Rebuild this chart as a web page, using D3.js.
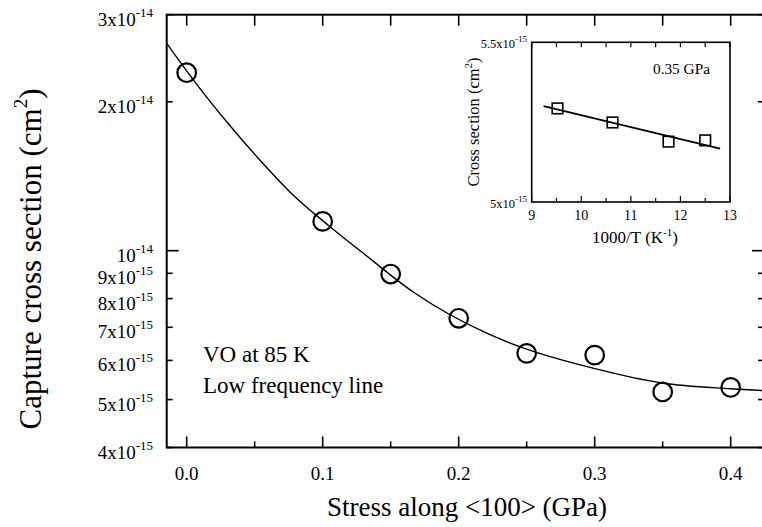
<!DOCTYPE html>
<html>
<head>
<meta charset="utf-8">
<script src="https://cdn.jsdelivr.net/npm/d3@7"></script>
<style>
  html, body { margin: 0; padding: 0; background: #fff; }
  svg { display: block; }
  text { font-family: "Liberation Serif", "Times New Roman", serif; fill: #000; }
</style>
</head>
<body>
<svg id="chart" width="762" height="527"></svg>
<script>
// ---------- main data ----------
const stress = [0, 0.1, 0.15, 0.2, 0.25, 0.3, 0.35, 0.4];
const crossSection = [2.29e-14, 1.146e-14, 8.97e-15, 7.30e-15, 6.20e-15, 6.15e-15, 5.18e-15, 5.29e-15];

// fitted curve
const fitStress = [-0.0147, 0.005, 0.0294, 0.0539, 0.0784, 0.1054, 0.1299, 0.1666, 0.2206, 0.2495, 0.2995, 0.3495, 0.3995, 0.424];
const fitCross  = [2.624e-14, 2.212e-14, 1.822e-14, 1.524e-14, 1.295e-14, 1.118e-14, 9.88e-15, 8.25e-15, 6.81e-15, 6.33e-15, 5.78e-15, 5.40e-15, 5.26e-15, 5.215e-15];

// axes
const xTickValues = [0, 0.1, 0.2, 0.3, 0.4];
const xTickLabels = ["0.0", "0.1", "0.2", "0.3", "0.4"];
const xMinorTicks = [0.05, 0.15, 0.25, 0.35];
const xTopTicks = [0, 0.05, 0.1, 0.15, 0.2, 0.25, 0.3, 0.35, 0.4];
const yTickValues = [4e-15, 5e-15, 6e-15, 7e-15, 8e-15, 9e-15, 1e-14, 2e-14, 3e-14];
const yTickMantissa = ["4x10", "5x10", "6x10", "7x10", "8x10", "9x10", "10", "2x10", "3x10"];
const yTickExponent = ["-15", "-15", "-15", "-15", "-15", "-15", "-14", "-14", "-14"];
const yMajorTicks = [1e-14];

// ---------- inset data ----------
const insetInvT = [9.52, 10.63, 11.76, 12.50];
const insetCross = [5.293e-15, 5.249e-15, 5.189e-15, 5.193e-15];
const insetFitInvT = [9.24, 12.80];
const insetFitCross = [5.300e-15, 5.1675e-15];
const insetXTicks = [9, 10, 11, 12, 13];
const insetXTickLabels = ["9", "10", "11", "12", "13"];
const insetXMinor = [9.5, 10.5, 11.5, 12.5];
const insetYTicks = [5e-15, 5.5e-15];
const insetYMantissa = ["5x10", "5.5x10"];
const insetYExponent = ["-15", "-15"];

// ---------- drawing ----------
const svg = d3.select("#chart");

const x = d3.scaleLinear().domain([-0.0147, 0.4245]).range([166.7, 764]);
const y = d3.scaleLog().domain([4e-15, 3e-14]).range([447.5, 14.7]);
const L = x.range()[0], R = x.range()[1], B = y.range()[0], T = y.range()[1];

svg.append("defs").append("clipPath").attr("id", "clipMain")
  .append("rect").attr("x", L).attr("y", T).attr("width", R - L).attr("height", B - T);

// frame
svg.append("rect").attr("x", L).attr("y", T).attr("width", R - L).attr("height", B - T)
  .attr("fill", "none").attr("stroke", "#000").attr("stroke-width", 2);

const tickG = svg.append("g").attr("stroke", "#000").attr("stroke-width", 1.6);
// bottom ticks
xTickValues.forEach(v => tickG.append("line").attr("x1", x(v)).attr("x2", x(v)).attr("y1", B).attr("y2", B - 11));
xMinorTicks.forEach(v => tickG.append("line").attr("x1", x(v)).attr("x2", x(v)).attr("y1", B).attr("y2", B - 6));
// top ticks
xTopTicks.forEach(v => tickG.append("line").attr("x1", x(v)).attr("x2", x(v)).attr("y1", T).attr("y2", T + 11));
// left / right ticks
yTickValues.forEach(v => {
  const len = yMajorTicks.includes(v) ? 12 : 6;
  tickG.append("line").attr("x1", L).attr("x2", L + len).attr("y1", y(v)).attr("y2", y(v));
  tickG.append("line").attr("x1", R).attr("x2", R - len).attr("y1", y(v)).attr("y2", y(v));
});

// x tick labels
svg.append("g").selectAll("text").data(xTickValues).join("text")
  .attr("x", d => x(d)).attr("y", 480).attr("text-anchor", "middle")
  .attr("font-size", 19).text((d, i) => xTickLabels[i]);

// y tick labels with superscripts
const yl = svg.append("g").selectAll("text").data(yTickValues).join("text")
  .attr("x", 153).attr("y", d => y(d) + 11).attr("text-anchor", "end").attr("font-size", 19);
yl.append("tspan").text((d, i) => yTickMantissa[i]);
yl.append("tspan").attr("font-size", 13).attr("dy", -9).text((d, i) => yTickExponent[i]);

// fit curve
const fitData = fitStress.map((s, i) => [s, fitCross[i]]);
svg.append("path").datum(fitData)
  .attr("clip-path", "url(#clipMain)")
  .attr("fill", "none").attr("stroke", "#000").attr("stroke-width", 1.4)
  .attr("d", d3.line().x(d => x(d[0])).y(d => y(d[1])).curve(d3.curveMonotoneX));

// data circles
svg.append("g").selectAll("circle").data(stress).join("circle")
  .attr("cx", d => x(d)).attr("cy", (d, i) => y(crossSection[i])).attr("r", 9.3)
  .attr("fill", "none").attr("stroke", "#000").attr("stroke-width", 2.2);

// annotations
svg.append("text").attr("x", 203).attr("y", 362).attr("font-size", 23).text("VO at 85 K");
svg.append("text").attr("x", 203).attr("y", 393).attr("font-size", 23).text("Low frequency line");

// axis titles
svg.append("text").attr("x", 467).attr("y", 516).attr("text-anchor", "middle")
  .attr("font-size", 27).text("Stress along <100> (GPa)");
const yt = svg.append("text").attr("transform", "translate(41,259) rotate(-90)")
  .attr("text-anchor", "middle").attr("font-size", 31);
yt.append("tspan").text("Capture cross section (cm");
yt.append("tspan").attr("font-size", 19).attr("dy", -14).text("2");
yt.append("tspan").attr("dy", 14).text(")");

// ---------- inset ----------
const ix = d3.scaleLinear().domain([9, 13]).range([531.7, 730]);
const iy = d3.scaleLinear().domain([5e-15, 5.5e-15]).range([202, 42.3]);
const iL = 531.7, iR = 730, iT = 42.3, iB = 202;

svg.append("rect").attr("x", iL).attr("y", iT).attr("width", iR - iL).attr("height", iB - iT)
  .attr("fill", "#fff").attr("stroke", "#000").attr("stroke-width", 1.6);

const itg = svg.append("g").attr("stroke", "#000").attr("stroke-width", 1.2);
insetXTicks.forEach(v => itg.append("line").attr("x1", ix(v)).attr("x2", ix(v)).attr("y1", iB).attr("y2", iB - 6));
insetXMinor.forEach(v => itg.append("line").attr("x1", ix(v)).attr("x2", ix(v)).attr("y1", iB).attr("y2", iB - 4));
insetXTicks.concat(insetXMinor).forEach(v => itg.append("line").attr("x1", ix(v)).attr("x2", ix(v)).attr("y1", iT).attr("y2", iT + 5));

svg.append("g").selectAll("text").data(insetXTicks).join("text")
  .attr("x", d => ix(d)).attr("y", 220).attr("text-anchor", "middle")
  .attr("font-size", 14).text((d, i) => insetXTickLabels[i]);

const iyl = svg.append("g").selectAll("text").data(insetYTicks).join("text")
  .attr("x", 527).attr("y", d => iy(d) + 6).attr("text-anchor", "end").attr("font-size", 12.5);
iyl.append("tspan").text((d, i) => insetYMantissa[i]);
iyl.append("tspan").attr("font-size", 9).attr("dy", -6).text((d, i) => insetYExponent[i]);

// inset fit line
svg.append("path").datum(insetFitInvT.map((t, i) => [t, insetFitCross[i]]))
  .attr("fill", "none").attr("stroke", "#000").attr("stroke-width", 1.8)
  .attr("d", d3.line().x(d => ix(d[0])).y(d => iy(d[1])));

// inset squares
svg.append("g").selectAll("rect").data(insetInvT).join("rect")
  .attr("x", d => ix(d) - 5.3).attr("y", (d, i) => iy(insetCross[i]) - 5.3)
  .attr("width", 10.6).attr("height", 10.6)
  .attr("fill", "none").attr("stroke", "#000").attr("stroke-width", 1.6);

svg.append("text").attr("x", 653).attr("y", 73.5).attr("font-size", 15.3).text("0.35 GPa");

const ixt = svg.append("text").attr("x", 635).attr("y", 243).attr("text-anchor", "middle").attr("font-size", 17);
ixt.append("tspan").text("1000/T (K");
ixt.append("tspan").attr("font-size", 11).attr("dy", -7).text("-1");
ixt.append("tspan").attr("dy", 7).text(")");

const iyt = svg.append("text").attr("transform", "translate(479,122) rotate(-90)")
  .attr("text-anchor", "middle").attr("font-size", 16.5);
iyt.append("tspan").text("Cross section (cm");
iyt.append("tspan").attr("font-size", 11).attr("dy", -7).text("2");
iyt.append("tspan").attr("dy", 7).text(")");
</script>
</body>
</html>
